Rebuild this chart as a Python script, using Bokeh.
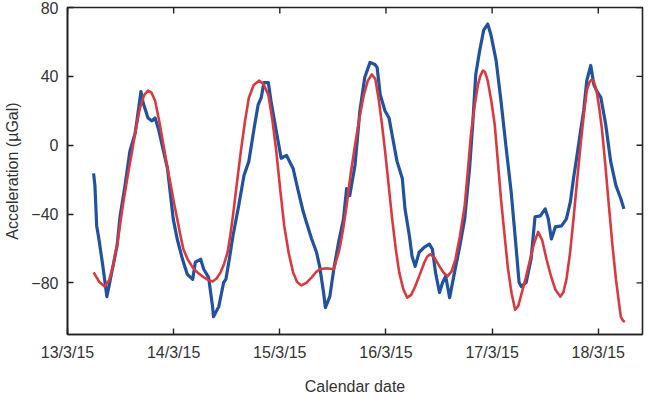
from bokeh.plotting import figure
from bokeh.models import FixedTicker, Range1d
from bokeh.embed import file_html
from bokeh.resources import INLINE

# hours since 13/3/15 00:00
obs_hours = [5.9, 6.2, 6.6, 7.1, 8.0, 8.9, 10.0, 11.2, 11.9, 13.0, 14.1, 15.3, 16.0, 16.6, 17.1, 18.2,
             19.1, 19.8, 20.5, 21.4, 22.6, 23.2, 23.9, 24.8, 26.0, 27.1, 28.3, 28.9, 30.1, 30.8, 31.9,
             32.8, 33.0, 34.2, 35.3, 35.8, 36.6, 37.4, 38.7, 39.9, 41.0, 42.2, 43.1, 43.8, 44.4, 45.4,
             46.0, 47.2, 48.3, 49.5, 51.0, 52.2, 53.3, 54.0, 55.2, 56.3, 57.0, 57.9, 58.3, 59.3, 60.2,
             61.3, 62.4, 63.1, 63.8, 65.0, 66.1, 67.2, 68.4, 69.5, 70.0, 70.7, 71.8, 72.7, 73.4, 74.5,
             75.7, 76.3, 77.3, 77.9, 78.6, 79.5, 80.7, 81.8, 82.5, 83.2, 84.1, 84.8, 85.5, 86.4, 87.5,
             88.7, 89.8, 90.9, 91.6, 92.3, 93.2, 94.1, 95.0, 95.7, 96.9, 98.0, 99.1, 100.3, 101.2,
             102.1, 102.6, 103.7, 104.8, 105.7, 106.9, 108.0, 108.7, 109.4, 110.3, 111.7, 112.8,
             113.7, 114.4, 115.1, 116.0, 116.7, 117.4, 118.3, 119.0, 119.6, 120.6, 121.7, 122.8,
             124.0, 125.1, 125.8]
obs_ugal = [-16.4, -23.5, -46.9, -54.5, -70.4, -88.0, -73.9, -58.6, -41.1, -23.5, -3.5, 7.0, 19.9, 31.1,
            24.6, 15.8, 14.1, 15.8, 10.0, 0.0, -13.5, -27.0, -42.8, -54.5, -66.3, -75.1, -78.0, -68.0,
            -66.3, -72.1, -76.8, -93.8, -99.7, -93.8, -79.8, -78.0, -66.0, -52.8, -35.2, -17.6, -9.4,
            10.0, 23.5, 27.6, 36.4, 36.4, 25.8, 8.2, -7.6, -5.9, -13.5, -27.0, -38.7, -44.6, -54.5,
            -62.2, -70.4, -85.6, -94.4, -88.0, -72.1, -56.3, -42.8, -25.2, -29.3, -11.7, 19.9, 39.3,
            48.1, 46.9, 45.2, 29.3, 19.9, 15.8, 5.9, -9.4, -19.4, -37.0, -52.8, -64.5, -70.4, -62.2,
            -59.2, -57.5, -60.4, -73.9, -85.6, -79.8, -76.2, -88.6, -73.9, -58.6, -42.8, -13.5, 11.7,
            41.1, 55.1, 66.9, 70.4, 64.5, 49.3, 25.8, 0.0, -27.0, -52.8, -79.8, -82.1, -79.8, -66.3,
            -41.6, -41.1, -37.0, -42.8, -54.5, -47.5, -46.9, -42.8, -32.8, -19.4, -7.6, 8.2, 19.9,
            37.5, 46.3, 35.2, 31.7, 27.6, 11.7, -9.4, -23.5, -31.1, -37.0]

model_hours = [5.9, 7.2, 8.4, 9.4, 10.3, 11.4, 12.5, 13.6, 14.6, 15.5, 16.4, 17.3, 18.2, 19.0, 19.8, 20.7,
               21.7, 22.4, 23.2, 24.0, 24.8, 25.5, 26.2, 27.2, 28.3, 29.4, 30.5, 31.6, 32.8, 33.7, 34.6,
               35.4, 36.2, 36.8, 37.4, 38.3, 39.2, 40.1, 41.0, 42.1, 43.3, 44.3, 45.4, 46.3, 47.2, 48.1,
               49.0, 50.0, 51.0, 51.9, 52.9, 54.0, 55.2, 56.1, 57.0, 58.6, 60.2, 61.5, 62.3, 63.1, 64.0,
               65.0, 66.0, 67.0, 67.9, 68.8, 69.6, 70.4, 71.1, 71.8, 72.6, 73.4, 74.2, 75.0, 75.9, 76.8,
               77.7, 78.6, 79.6, 80.7, 81.3, 82.0, 83.0, 84.1, 85.0, 85.9, 86.8, 87.7, 88.7, 89.8, 90.5,
               91.2, 92.0, 92.8, 93.3, 93.9, 94.4, 95.0, 95.8, 96.6, 97.3, 98.0, 98.8, 99.6, 100.4, 101.2,
               101.9, 102.6, 103.6, 104.6, 105.5, 106.4, 107.3, 108.3, 109.3, 110.3, 111.4, 112.1, 112.8,
               113.6, 114.4, 115.2, 116.0, 116.7, 117.4, 118.0, 118.5, 119.0, 119.6, 120.2, 120.8, 121.6,
               122.4, 123.2, 124.0, 124.6, 125.1, 125.6, 126.0]
model_ugal = [-73.9, -79.5, -82.1, -78.5, -70.4, -55.0, -35.2, -18.0, -3.5, 10.0, 21.7, 29.0, 31.7, 30.5,
              25.8, 14.5, 0.0, -10.5, -21.1, -32.5, -42.8, -52.0, -60.4, -66.5, -71.0, -74.0, -76.2,
              -78.0, -79.2, -77.5, -73.9, -69.0, -62.2, -52.5, -41.1, -22.0, -3.5, 13.5, 27.6, 35.0,
              37.5, 35.5, 29.3, 15.0, -3.5, -26.0, -46.9, -62.5, -73.9, -79.5, -81.5, -80.0, -76.8,
              -74.0, -72.1, -71.5, -72.1, -60.4, -49.0, -35.2, -17.0, 0.0, 16.0, 29.3, 37.5, 41.1, 38.5,
              25.8, 12.0, -3.5, -23.0, -42.8, -60.0, -73.9, -83.5, -88.6, -87.0, -82.1, -75.5, -68.0,
              -64.8, -63.3, -65.5, -70.4, -74.0, -76.2, -73.5, -66.3, -53.0, -35.2, -15.0, 5.9, 22.0,
              35.2, 40.0, 43.4, 42.5, 37.5, 26.0, 11.7, -9.5, -31.1, -52.0, -72.1, -86.0, -95.6, -93.5,
              -86.8, -77.0, -66.3, -57.0, -50.4, -55.0, -66.3, -76.0, -83.9, -88.0, -85.5, -78.0, -63.0,
              -42.8, -21.0, 0.0, 17.0, 31.7, 36.5, 38.1, 37.0, 31.7, 22.0, 10.0, -11.5, -35.2, -58.0,
              -78.0, -90.0, -99.7, -102.0, -102.6]

tick_hours = [0, 24, 48, 72, 96, 120]
tick_dates = ["13/3/15", "14/3/15", "15/3/15", "16/3/15", "17/3/15", "18/3/15"]
y_ticks = [-80, -40, 0, 40, 80]
y_tick_labels = ["\u221280", "\u221240", "0", "40", "80"]

X_MIN, X_MAX = 0, 130
Y_MIN, Y_MAX = -110, 80

FONT = "Liberation Sans"
TXT = "#333333"
AX = "#222222"

p = figure(width=650, height=397, output_backend="svg", toolbar_location=None,
           x_range=Range1d(X_MIN, X_MAX), y_range=Range1d(Y_MIN, Y_MAX),
           min_border_left=67, min_border_right=8, min_border_top=7, min_border_bottom=63,
           x_axis_label="Calendar date", y_axis_label="Acceleration (\u00b5Gal)")
p.outline_line_color = AX
p.outline_line_width = 1.6
p.xgrid.visible = False
p.ygrid.visible = False

p.line(obs_hours, obs_ugal, line_color="#2152a0", line_width=3.2, line_join="round")
p.line(model_hours, model_ugal, line_color="#d93a40", line_width=2.6, line_join="round")

# inward tick marks on the top and right edges (mirroring the bottom/left axes)
tick_len_y = 6 * (Y_MAX - Y_MIN) / 327.0
tick_len_x = 6 * (X_MAX - X_MIN) / 575.0
p.segment(x0=tick_hours, y0=[Y_MAX] * len(tick_hours), x1=tick_hours,
          y1=[Y_MAX - tick_len_y] * len(tick_hours), line_color=AX, line_width=1.4)
p.segment(x0=[X_MAX] * len(y_ticks), y0=y_ticks, x1=[X_MAX - tick_len_x] * len(y_ticks),
          y1=y_ticks, line_color=AX, line_width=1.4)

p.xaxis.ticker = FixedTicker(ticks=tick_hours)
p.xaxis.major_label_overrides = {h: d for h, d in zip(tick_hours, tick_dates)}
p.yaxis.ticker = FixedTicker(ticks=y_ticks)
p.yaxis.major_label_overrides = {t: l for t, l in zip(y_ticks, y_tick_labels)}

for ax in (p.xaxis[0], p.yaxis[0]):
    ax.major_tick_in = 6
    ax.major_tick_out = 0
    ax.minor_tick_in = 0
    ax.minor_tick_out = 0
    ax.axis_line_color = AX
    ax.axis_line_width = 1.6
    ax.major_tick_line_color = AX
    ax.major_tick_line_width = 1.4
    ax.major_label_text_font = FONT
    ax.major_label_text_font_size = "16px"
    ax.major_label_text_color = TXT
    ax.axis_label_text_font = FONT
    ax.axis_label_text_font_size = "16px"
    ax.axis_label_text_font_style = "normal"
    ax.axis_label_text_color = TXT
    ax.major_label_standoff = 9

p.xaxis.axis_label_standoff = 14
p.yaxis.axis_label_standoff = 7

open("out.html", "w").write(file_html(p, INLINE))
